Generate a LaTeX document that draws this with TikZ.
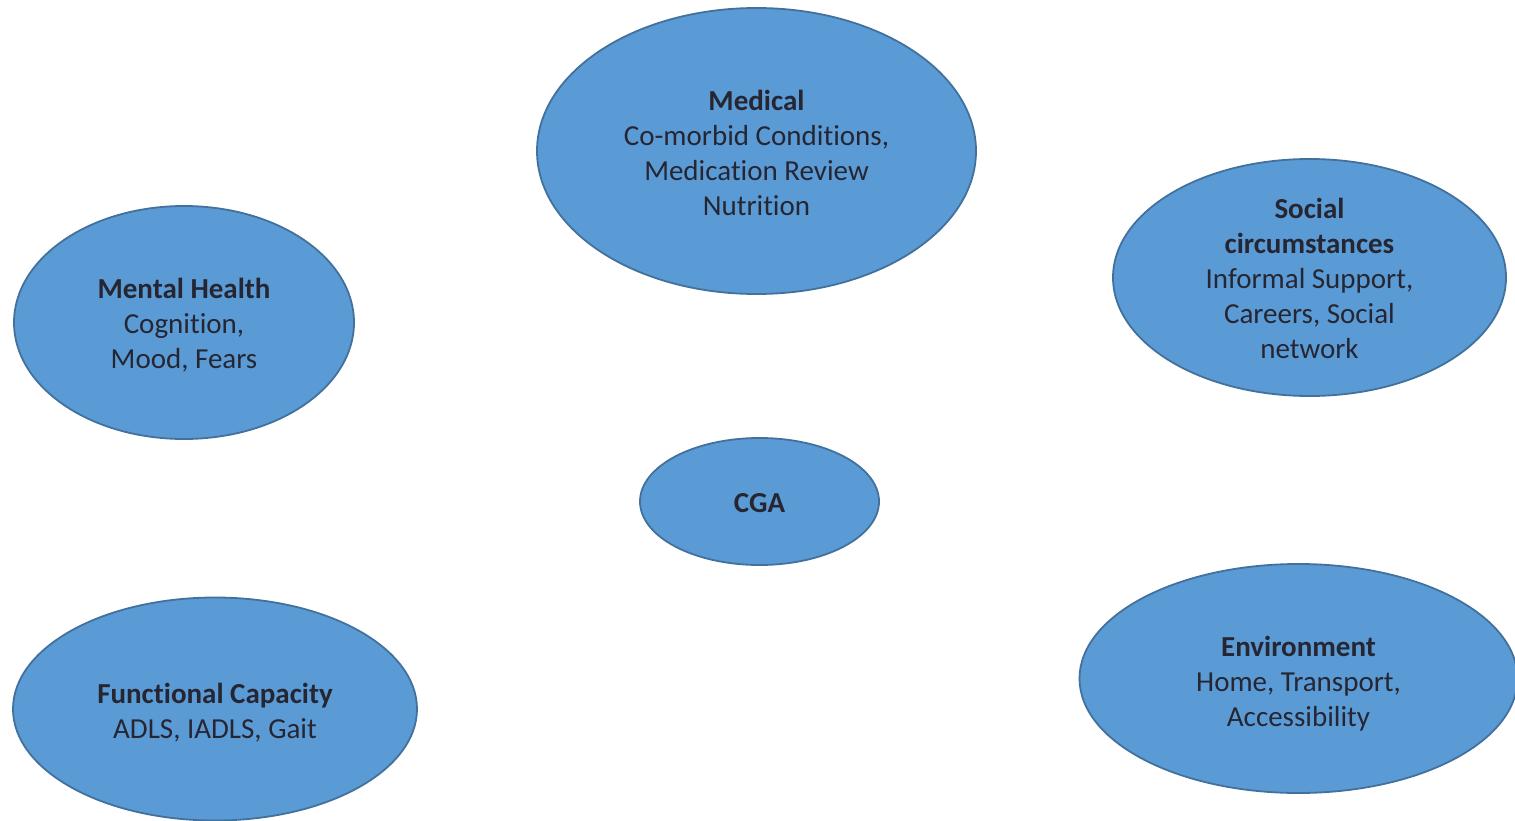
\documentclass[tikz,border=0pt]{standalone}
\usepackage{fontspec}
\setmainfont[Ligatures={NoCommon}]{Carlito}
\usetikzlibrary{shapes.geometric}
\definecolor{blobfill}{HTML}{5B9BD5}
\definecolor{blobdraw}{HTML}{41719C}
\definecolor{txtcol}{HTML}{262633}
\tikzset{
  blob/.style={ellipse, fill=blobfill, draw=blobdraw, line width=1.8pt, inner sep=0pt},
  txt/.style={align=center, text=txtcol, font=\fontsize{29}{35}\selectfont, inner sep=0pt}
}
\begin{document}
\begin{tikzpicture}[x=1pt,y=-1pt]
\useasboundingbox (0,0) rectangle (1515,821);
\clip (0,0) rectangle (1515,821);
\fill[white] (0,0) rectangle (1515,821);
\node[blob, minimum width=439pt, minimum height=286pt] (med) at (756.5,151) {};
\node[txt] (medt) at ([yshift=-2pt]med.center) {\textbf{Medical}\\Co-morbid Conditions,\\Medication Review\\Nutrition};
\node[blob, minimum width=393pt, minimum height=237pt] (soc) at (1309.5,277.5) {};
\node[txt] (soct) at ([yshift=-1pt]soc.center) {\textbf{Social}\\\textbf{circumstances}\\Informal Support,\\Careers, Social\\network};
\node[blob, minimum width=340pt, minimum height=233pt] (men) at (184,322.5) {};
\node[txt] (ment) at ([yshift=-3pt]men.center) {\textbf{Mental Health}\\Cognition,\\Mood, Fears};
\node[blob, minimum width=239pt, minimum height=127pt] (cga) at (759.5,501.5) {};
\node[txt] (cgat) at ([yshift=-1.5pt]cga.center) {\textbf{CGA}};
\node[blob, minimum width=404pt, minimum height=223pt] (fun) at (215,709) {};
\node[txt] (funt) at ([yshift=-4pt]fun.center) {\textbf{Functional Capacity}\\ADLS, IADLS, Gait};
\node[blob, minimum width=438pt, minimum height=229pt] (env) at (1298.5,678.5) {};
\node[txt] (envt) at ([yshift=-5pt]env.center) {\textbf{Environment}\\Home, Transport,\\Accessibility};
\end{tikzpicture}
\end{document}
